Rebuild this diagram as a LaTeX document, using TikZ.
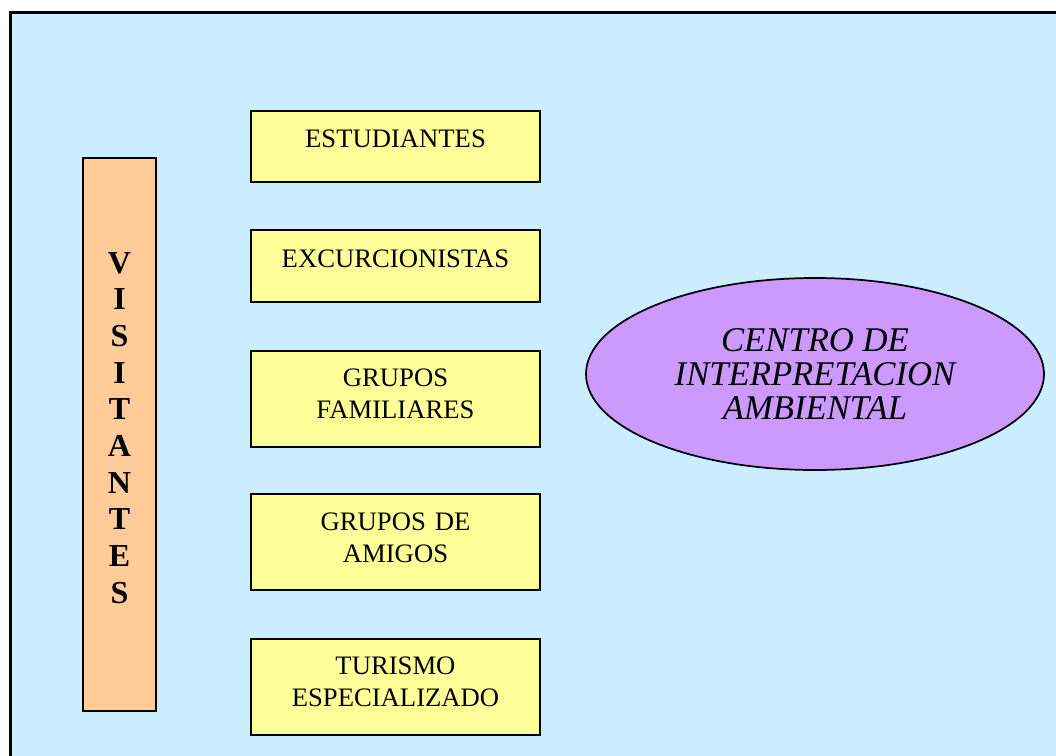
\documentclass[tikz,border=0pt]{standalone}
\usepackage{fontspec}
\setmainfont{Liberation Serif}
\usetikzlibrary{shapes.geometric}
\definecolor{bgblue}{HTML}{CCECFF}
\definecolor{boxyellow}{HTML}{FFFF99}
\definecolor{boxorange}{HTML}{FFCC99}
\definecolor{ellpurple}{HTML}{CC99FF}
\tikzset{
  ybox/.style={draw=black, line width=1.3pt, fill=boxyellow, inner sep=0pt,
    minimum width=289*0.75pt},
  btext/.style={anchor=base, inner sep=0pt, text width=280*0.75pt, align=center,
    font=\fontsize{20pt}{24pt}\selectfont},
  vbox/.style={draw=black, line width=1.3pt, fill=boxorange, inner sep=0pt,
    minimum width=73*0.75pt, minimum height=553*0.75pt},
  vtext/.style={anchor=base, inner sep=0pt, text width=60*0.75pt, align=center,
    font=\fontsize{24pt}{27.5pt}\selectfont\bfseries},
  cell/.style={ellipse, draw=black, line width=1.3pt, fill=ellpurple, inner sep=0pt,
    minimum width=458*0.75pt, minimum height=192*0.75pt, align=center,
    font=\fontsize{26pt}{25.5pt}\selectfont\itshape},
}
\begin{document}
\begin{tikzpicture}[x=0.75pt, y=-0.75pt]
\useasboundingbox (0,0) rectangle (1056,756);
% background frame
\fill[white] (0,0) rectangle (1056,756);
\draw[line width=2.25pt, fill=bgblue] (10,13) rectangle (1070,770);
% VISITANTES
\node[vbox] (vis) at (119.5,434.5) {};
\node[vtext] (vist) at (119.5,273) {V\\I\\S\\I\\T\\A\\N\\T\\E\\S};
% category boxes
\node[ybox, minimum height=71*0.75pt] (est) at (395.5,146.5) {};
\node[btext] (estt) at (395.5,147) {ESTUDIANTES};
\node[ybox, minimum height=72*0.75pt] (exc) at (395.5,266) {};
\node[btext] (exct) at (395.5,267) {EXCURCIONISTAS};
\node[ybox, minimum height=96*0.75pt] (fam) at (395.5,399) {};
\node[btext] (famt) at (395.5,386) {GRUPOS\\FAMILIARES};
\node[ybox, minimum height=96*0.75pt] (ami) at (395.5,542) {};
\node[btext] (amit) at (395.5,530) {GRUPOS DE\\AMIGOS};
\node[ybox, minimum height=96*0.75pt] (tur) at (395.5,687) {};
\node[btext] (turt) at (395.5,674) {TURISMO\\ESPECIALIZADO};
% centre ellipse
\node[cell] (cia) at (815,374) {CENTRO DE\\INTERPRETACION\\AMBIENTAL};
\end{tikzpicture}
\end{document}
